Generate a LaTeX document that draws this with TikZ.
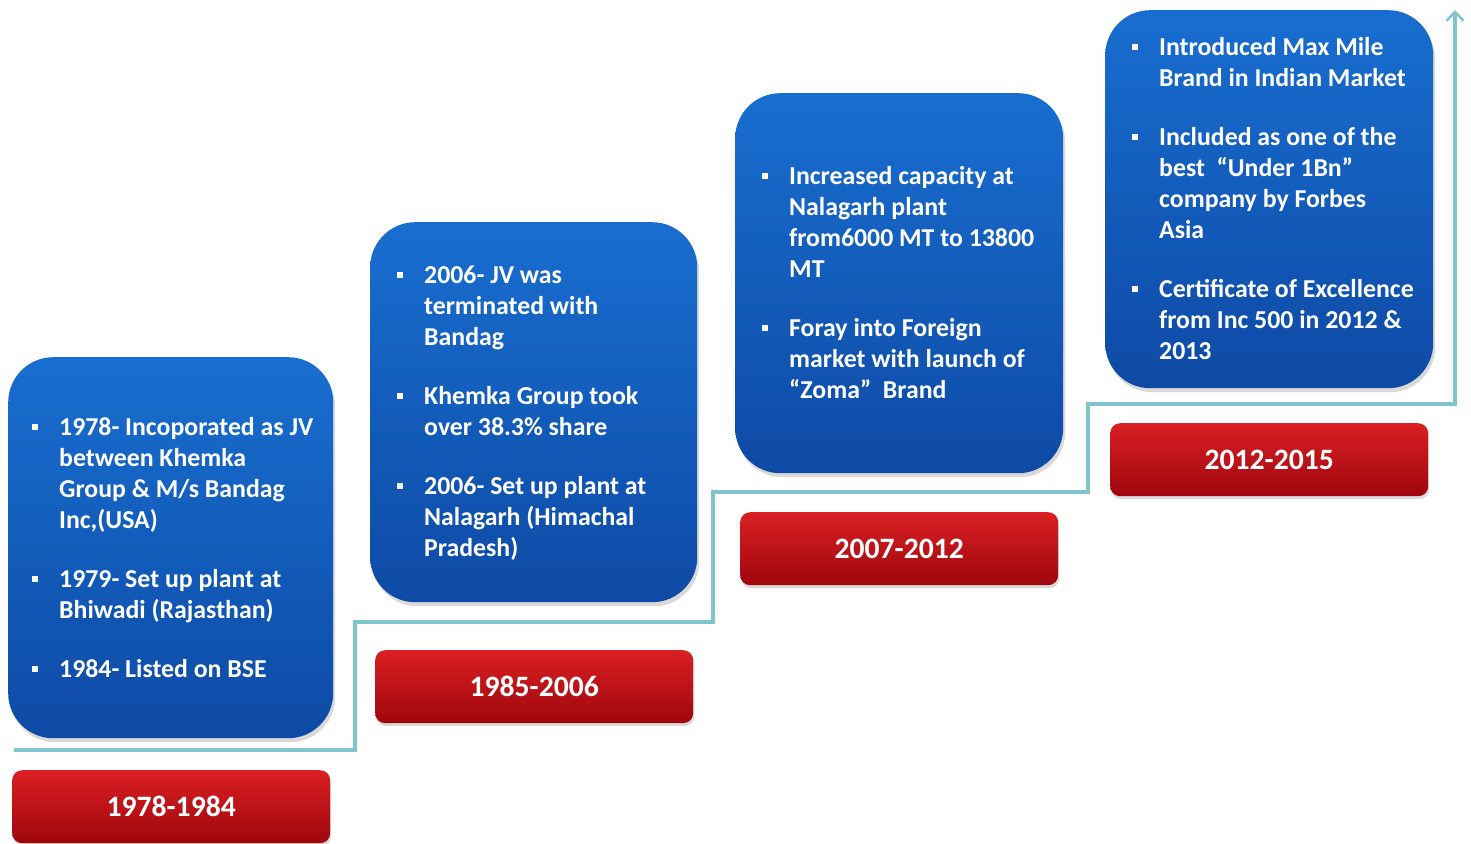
\documentclass[tikz,border=0pt]{standalone}
\usepackage{fontspec}
\setmainfont{Carlito}
\usetikzlibrary{shadows,arrows.meta}
\definecolor{btop}{RGB}{24,110,208}
\definecolor{bmid}{RGB}{20,96,192}
\definecolor{bbot}{RGB}{14,74,165}
\definecolor{rtop}{RGB}{218,32,36}
\definecolor{rbot}{RGB}{158,6,12}
\definecolor{lineteal}{RGB}{128,196,206}
\newcommand{\bul}{\makebox[27pt][l]{\rule[6pt]{6pt}{6pt}}\strut}
\newcommand{\ind}{\hspace*{27pt}}
\tikzset{
  bluebox/.style={rectangle, rounded corners=45pt, draw=none,
    top color=btop, middle color=bmid, bottom color=bbot,
    anchor=north west, inner sep=0pt,
    drop shadow={opacity=0.3, shadow xshift=2pt, shadow yshift=-4pt}},
  redbox/.style={rectangle, rounded corners=10pt, draw=none,
    top color=rtop, bottom color=rbot, anchor=north west, inner sep=0pt,
    minimum width=318pt, minimum height=73pt,
    drop shadow={opacity=0.3, shadow xshift=1pt, shadow yshift=-3pt}},
  bultext/.style={anchor=north west, inner sep=0pt, align=left, text=white,
    font=\fontsize{25.8}{31}\selectfont\bfseries},
  yeartext/.style={text=white, inner sep=0pt, font=\fontsize{29.6}{34}\selectfont\bfseries},
  stepline/.style={draw=lineteal, line width=3.3pt, line join=miter}
}
\begin{document}
\begin{tikzpicture}[x=1pt, y=-1pt]
\useasboundingbox (0,0) rectangle (1471,843);

% step line with arrow
\coordinate (s0) at (14,750);
\coordinate (s1) at (355,750);
\coordinate (s2) at (355,622);
\coordinate (s3) at (713,622);
\coordinate (s4) at (713,492);
\coordinate (s5) at (1088,492);
\coordinate (s6) at (1088,404);
\coordinate (s7) at (1455,404);
\coordinate (s8) at (1455,10);
\draw[stepline, -{Straight Barb[length=9pt,width=17pt,line width=2.5pt]}]
  (s0) -- (s1) -- (s2) -- (s3) -- (s4) -- (s5) -- (s6) -- (s7) -- (s8);

% blue boxes
\node[bluebox, minimum width=325pt, minimum height=381pt] (b1) at (8,357) {};
\node[bluebox, minimum width=327pt, minimum height=380pt] (b2) at (370,222) {};
\node[bluebox, minimum width=328pt, minimum height=380pt] (b3) at (735,93) {};
\node[bluebox, minimum width=328pt, minimum height=378pt] (b4) at (1105,10) {};

% red boxes
\node[redbox] (r1) at (12,770) {};
\node[redbox] (r2) at (375,650) {};
\node[redbox] (r3) at (740,512) {};
\node[redbox] (r4) at (1110,423) {};
\node[yeartext] (y1) at (r1.center) {1978-1984};
\node[yeartext] (y2) at (r2.center) {1985-2006};
\node[yeartext] (y3) at (r3.center) {2007-2012};
\node[yeartext] (y4) at (r4.center) {2012-2015};

% texts
\node[bultext] (t1) at (32,414) {%
\bul 1978- Incoporated as JV\\
\ind between Khemka\\
\ind Group \& M/s Bandag\\
\ind Inc,(USA)\\[28pt]
\bul 1979- Set up plant at\\
\ind Bhiwadi (Rajasthan)\\[28pt]
\bul 1984- Listed on BSE};

\node[bultext] (t2) at (397,262) {%
\bul 2006- JV was\\
\ind terminated with\\
\ind Bandag\\[28pt]
\bul Khemka Group took\\
\ind over 38.3\% share\\[28pt]
\bul 2006- Set up plant at\\
\ind Nalagarh (Himachal\\
\ind Pradesh)};

\node[bultext] (t3) at (762,163) {%
\bul Increased capacity at\\
\ind Nalagarh plant\\
\ind from6000 MT to 13800\\
\ind MT\\[28pt]
\bul Foray into Foreign\\
\ind market with launch of\\
\ind “Zoma”\ \ Brand};

\node[bultext] (t4) at (1132,34) {%
\bul Introduced Max Mile\\
\ind Brand in Indian Market\\[28pt]
\bul Included as one of the\\
\ind best\ \ “Under 1Bn”\\
\ind company by Forbes\\
\ind Asia\\[28pt]
\bul Certificate of Excellence\\
\ind from Inc 500 in 2012 \&\\
\ind 2013};
\end{tikzpicture}
\end{document}
